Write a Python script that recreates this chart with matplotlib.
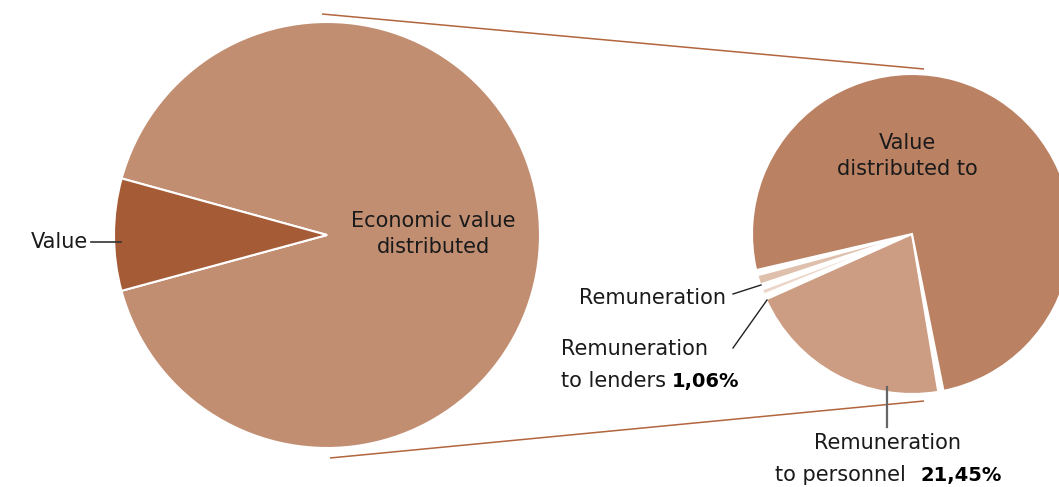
import matplotlib
matplotlib.use("Agg")
import matplotlib.pyplot as plt

# ---- data ----
left_labels = ["Economic value\ndistributed", "Value"]
left_values = [91.5, 8.5]
right_labels = ["Remuneration", "Remuneration to lenders", "Remuneration to personnel", "Value distributed to"]
right_values = [1.49, 1.06, 21.45, 76.0]
lenders_pct = "1,06%"
personnel_pct = "21,45%"

# ---- style ----
left_colors = ["#c28e72", "#a65b37"]
right_colors = ["#dfc0ad", "#ecd6c9", "#cc9d82", "#bb8163"]
link_color = "#b3653e"
text_color = "#1a1a1a"
FONT = "DejaVu Sans"
FS = 15

W, H = 1059, 487
fig = plt.figure(figsize=(W / 100, H / 100), dpi=100)
ax = fig.add_axes([0, 0, 1, 1])

# left pie
cL, rL = (327, 252), 213
ax.pie(left_values, colors=left_colors, startangle=195.2, counterclock=True,
       center=cL, radius=rL, frame=True,
       wedgeprops=dict(edgecolor="white", linewidth=1.5))

# right pie
cR, rR = (912, 253), 160
wedges, _ = ax.pie(right_values, colors=right_colors, startangle=194, counterclock=True,
                   center=cR, radius=rR, frame=True,
                   wedgeprops=dict(edgecolor="white", linewidth=1.5))
pad = 1.9
for w in wedges:
    w.set_theta1(w.theta1 + pad / 2)
    w.set_theta2(w.theta2 - pad / 2)

ax.set_xlim(0, W)
ax.set_ylim(0, H)
ax.set_aspect("equal")
ax.axis("off")

# connecting lines between pies
ax.plot([cL[0] - 5, cR[0] + 12], [cL[1] + rL + 8, cR[1] + rR + 5], color=link_color, lw=1.1, solid_capstyle="butt")
ax.plot([cL[0] + 3, cR[0] + 12], [cL[1] - rL - 10, cR[1] - rR - 7], color=link_color, lw=1.1, solid_capstyle="butt")

tkw = dict(fontsize=FS, family=FONT, color=text_color)
bkw = dict(fontsize=14, family=FONT, color="#000000", fontweight="bold")

# left labels
ax.text(433, 253, left_labels[0], ha="center", va="center", linespacing=1.4, **tkw)
ax.text(88, 245, left_labels[1], ha="right", va="center", **tkw)
ax.plot([91, 121], [245, 245], color="#333333", lw=1.2)

# right labels
ax.text(907, 331, "Value\ndistributed to", ha="center", va="center", linespacing=1.4, **tkw)

ax.text(726, 189, "Remuneration", ha="right", va="center", **tkw)
ax.plot([733, 761], [193, 202], color="#222222", lw=1.0)

ax.text(561, 138, "Remuneration", ha="left", va="center", **tkw)
t1 = ax.text(561, 106, "to lenders", ha="left", va="center", **tkw)
ax.annotate(lenders_pct, xy=(1, 0), xycoords=t1, xytext=(4, 0), textcoords="offset points",
            ha="left", va="bottom", **bkw)
ax.plot([733, 767], [139, 187], color="#222222", lw=1.0)

ax.text(887, 44, "Remuneration", ha="center", va="center", **tkw)
ax.text(906, 12, "to personnel", ha="right", va="center", **tkw)
ax.text(920, 12, personnel_pct, ha="left", va="center", **bkw)
ax.plot([887, 887], [100, 60], color="#666666", lw=1.6)

fig.savefig("out.png", dpi=100)
